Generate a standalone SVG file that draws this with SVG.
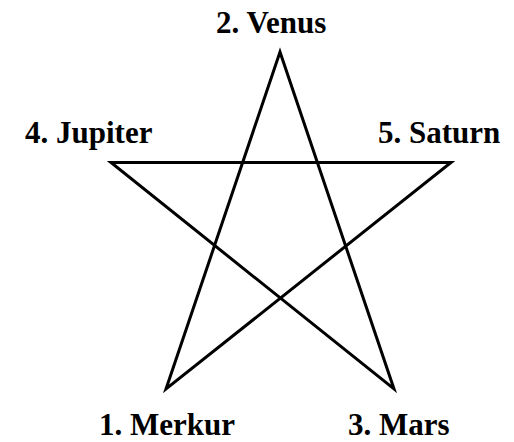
<svg xmlns="http://www.w3.org/2000/svg" width="514" height="442" viewBox="0 0 514 442">
  <style>
    .lbl { font-family: "Liberation Serif", "Times New Roman", serif; font-weight: bold; font-size: 31px; fill: #000; }
    .edge { fill: none; stroke: #000; stroke-width: 3; stroke-linejoin: miter; stroke-miterlimit: 10; }
  </style>
  <rect width="514" height="442" fill="#fff"/>
  <g id="connectors">
    <path class="edge" d="M166,389 L280,52 L394,389 L111,162.5 L451,162.5 Z"/>
  </g>
  <g id="node-merkur"><text class="lbl" x="99" y="435">1. Merkur</text></g>
  <g id="node-venus"><text class="lbl" x="216" y="33">2. Venus</text></g>
  <g id="node-mars"><text class="lbl" x="348" y="435">3. Mars</text></g>
  <g id="node-jupiter"><text class="lbl" x="25" y="143">4. Jupiter</text></g>
  <g id="node-saturn"><text class="lbl" x="378" y="143">5. Saturn</text></g>
</svg>
